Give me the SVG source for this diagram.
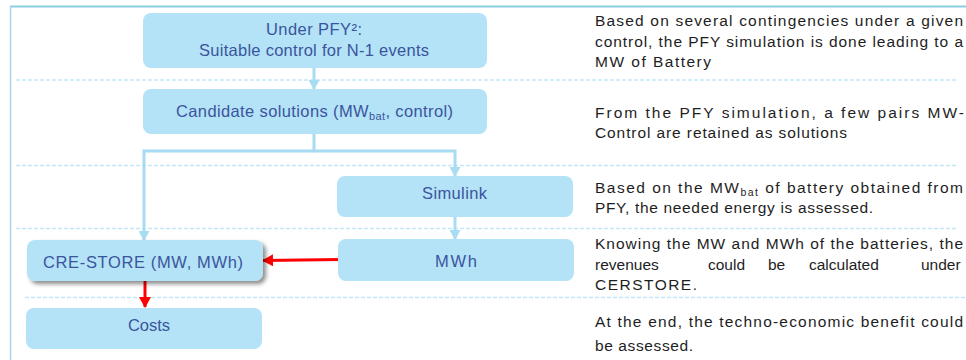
<svg xmlns="http://www.w3.org/2000/svg" width="966" height="360" viewBox="0 0 966 360">
<style>
.node{fill:#b4e2f6}
.nt{font-family:"Liberation Sans",Arial,sans-serif;font-size:16.5px;fill:#3a559e}
.rt{font-family:"Liberation Sans",Arial,sans-serif;font-size:15.5px;fill:#1e1e1e}
.sep{stroke:#c3e7f7;stroke-width:1.5;stroke-dasharray:4 2;fill:none}
.blue{stroke:#a8dcf2;stroke-width:3;fill:none}
.red{stroke:#ff0000;stroke-width:3;fill:none}
</style>
<defs>
<marker id="ab" markerUnits="userSpaceOnUse" markerWidth="11" markerHeight="11" refX="9" refY="5.5" orient="auto" viewBox="0 0 11 11"><path d="M0,0 L10,5.5 L0,11 z" fill="#a8dcf2"/></marker>
<marker id="ar" markerUnits="userSpaceOnUse" markerWidth="12" markerHeight="12" refX="10" refY="6" orient="auto" viewBox="0 0 12 12"><path d="M0,0 L11,6 L0,12 z" fill="#ff0000"/></marker>
<filter id="sh" x="-10%" y="-20%" width="125%" height="160%"><feDropShadow dx="3" dy="3" stdDeviation="2" flood-color="#000" flood-opacity="0.45"/></filter>
</defs>
<rect width="966" height="360" fill="#ffffff"/>
<g id="frame">
<line x1="10" y1="6.5" x2="966" y2="6.5" stroke="#8ccde0" stroke-width="2"/>
<line x1="10.5" y1="6" x2="10.5" y2="360" stroke="#a8d8ea" stroke-width="1.5"/>
</g>
<g id="separators">
<line class="sep" x1="16" y1="80" x2="958" y2="80"/>
<line class="sep" x1="16" y1="165.5" x2="958" y2="165.5"/>
<line class="sep" x1="16" y1="228.5" x2="958" y2="228.5"/>
<line class="sep" x1="25" y1="297.5" x2="966" y2="297.5"/>
</g>
<g id="connectors">
<line class="blue" x1="314" y1="68" x2="314" y2="89" marker-end="url(#ab)"/>
<polyline class="blue" points="314,134 314,151 455,151 455,176" marker-end="url(#ab)"/>
<polyline class="blue" points="314,151 144,151 144,240" marker-end="url(#ab)"/>
<line class="blue" x1="455" y1="217" x2="455" y2="239" marker-end="url(#ab)"/>
<line class="red" x1="340" y1="259.5" x2="263" y2="260.5" marker-end="url(#ar)"/>
<line class="red" x1="145" y1="281" x2="145" y2="307" marker-end="url(#ar)"/>
</g>
<g id="n1">
<rect class="node" x="143" y="13" width="344" height="55" rx="8"/>
<text class="nt" x="266" y="35" textLength="96">Under PFY²:</text>
<text class="nt" x="199" y="56" textLength="230">Suitable control for N-1 events</text>
</g>
<g id="n2">
<rect class="node" x="143" y="89" width="344" height="45" rx="8"/>
<text class="nt" x="176" y="117" textLength="277">Candidate solutions (MW<tspan font-size="11" dy="3">bat</tspan><tspan dy="-3">, control)</tspan></text>
</g>
<g id="n3">
<rect class="node" x="337" y="176" width="236" height="41" rx="8"/>
<text class="nt" x="422" y="199" textLength="65">Simulink</text>
</g>
<g id="n4">
<rect class="node" x="338" y="239" width="236" height="42" rx="8"/>
<text class="nt" x="435" y="267" textLength="42" fill="#2a4590">MWh</text>
</g>
<g id="n5">
<rect class="node" x="27" y="240" width="236" height="41" rx="8" filter="url(#sh)"/>
<text class="nt" x="43" y="268" textLength="200">CRE-STORE (MW, MWh)</text>
</g>
<g id="n6">
<rect class="node" x="26" y="308" width="236" height="41" rx="8"/>
<text class="nt" x="128" y="331" textLength="42">Costs</text>
</g>
<g id="descriptions">
<text class="rt" x="595" y="26" textLength="368">Based on several contingencies under a given</text>
<text class="rt" x="595" y="47" textLength="368">control, the PFY simulation is done leading to a</text>
<text class="rt" x="595" y="67" textLength="116">MW of Battery</text>
<text class="rt" x="595" y="118" textLength="369">From the PFY simulation, a few pairs MW-</text>
<text class="rt" x="595" y="138" textLength="252">Control are retained as solutions</text>
<text class="rt" x="595" y="193" textLength="368">Based on the MW<tspan font-size="10.5" dy="3">bat</tspan><tspan dy="-3"> of battery obtained from</tspan></text>
<text class="rt" x="595" y="213" textLength="278">PFY, the needed energy is assessed.</text>
<text class="rt" x="595" y="249" textLength="368">Knowing the MW and MWh of the batteries, the</text>
<text class="rt" y="270"><tspan x="595">revenues</tspan><tspan x="708">could</tspan><tspan x="768">be</tspan><tspan x="809">calculated</tspan><tspan x="921">under</tspan></text>
<text class="rt" x="595" y="290" textLength="102">CERSTORE.</text>
<text class="rt" x="595" y="327" textLength="368">At the end, the techno-economic benefit could</text>
<text class="rt" x="595" y="351" textLength="98">be assessed.</text>
</g>
</svg>
